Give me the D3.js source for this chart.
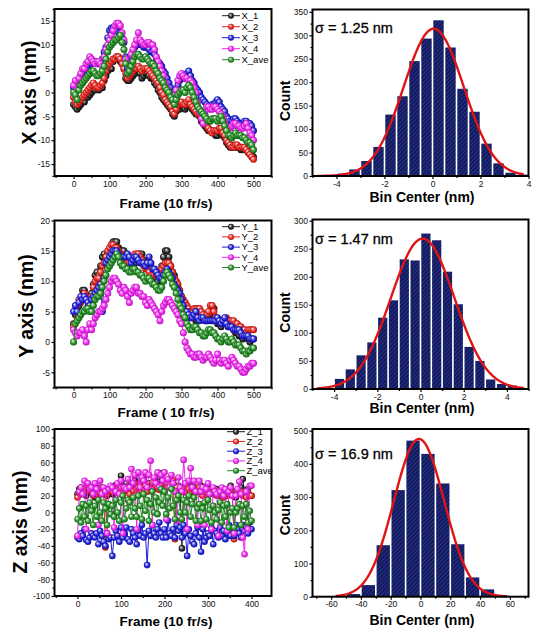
<!DOCTYPE html>
<html><head><meta charset="utf-8">
<script src="https://cdn.jsdelivr.net/npm/d3@7"></script>
<style>body{margin:0;background:#fff}svg text{font-family:"Liberation Sans",Arial,sans-serif}</style>
</head><body><svg id="c" width="539" height="638"></svg>
<script>
// ---------------- DATA ----------------
const framesXY = d3.range(0, 501, 5);
const framesZ = d3.range(0, 401, 4);

const X_1 = [-2.5,-3.0,-3.5,-3.0,-2.5,-1.5,-2.0,-1.0,-1.0,-0.5,
  0.0,0.5,0.5,1.0,0.5,1.0,1.0,2.5,3.5,4.5,
  5.5,5.0,6.5,7.0,7.5,7.0,6.5,6.0,5.0,3.0,
  2.5,2.5,3.0,3.5,4.0,4.5,4.5,4.0,3.0,3.5,
  4.0,4.0,3.5,3.0,3.0,2.0,1.5,0.5,0.0,-1.0,
  -1.5,-2.0,-2.5,-3.0,-3.5,-4.5,-5.0,-4.0,-3.0,-3.5,
  -3.0,-3.0,-3.5,-3.0,-2.5,-3.0,-3.5,-4.0,-4.5,-4.5,
  -5.0,-6.0,-6.5,-7.0,-7.5,-8.0,-8.0,-8.0,-8.5,-9.0,
  -9.0,-8.5,-8.0,-9.0,-9.5,-10.5,-11.0,-11.5,-11.5,-11.0,
  -11.5,-11.5,-11.5,-12.0,-12.0,-11.5,-12.0,-12.5,-12.5,-13.0,-13.5];
const X_2 = [-1.0,-2.0,-2.5,-2.0,-1.5,-1.0,-0.5,0.0,0.5,1.0,
  1.5,2.0,1.5,1.0,1.0,1.5,2.0,3.0,4.5,5.5,
  6.0,6.5,7.0,7.0,7.5,7.5,7.0,6.0,5.0,4.0,
  3.0,3.5,4.0,4.5,5.0,5.0,5.5,5.0,4.5,5.0,
  5.0,5.0,4.5,4.0,3.5,3.0,2.5,2.0,1.0,0.0,
  -0.5,-1.5,-2.0,-2.5,-3.0,-4.0,-4.5,-3.5,-2.5,-2.0,
  -2.0,-2.5,-2.5,-2.0,-1.5,-2.5,-3.0,-3.5,-4.0,-4.5,
  -4.5,-5.5,-6.0,-6.5,-7.0,-7.5,-8.0,-8.5,-8.0,-8.0,
  -8.0,-7.5,-7.5,-8.5,-9.0,-10.0,-10.5,-11.0,-11.5,-11.5,
  -11.0,-11.0,-11.5,-11.5,-11.5,-11.5,-12.0,-12.5,-13.0,-13.5,-14.0];
const X_3 = [1.0,2.0,1.5,2.5,3.5,4.0,4.5,5.5,5.5,6.0,
  6.0,6.5,6.5,6.0,6.0,6.5,7.0,8.5,9.5,11.5,
  13.0,13.5,13.5,13.0,13.0,12.5,12.5,11.5,10.5,7.5,
  5.0,6.0,7.5,8.5,9.5,10.0,10.0,10.5,10.0,9.5,
  9.5,9.5,9.0,8.5,8.5,8.0,7.0,6.5,6.0,5.5,
  4.5,4.0,3.0,2.0,1.0,0.0,-0.5,0.5,1.5,2.5,
  3.0,3.0,3.5,4.0,4.5,3.5,2.5,2.0,1.0,0.5,
  0.0,-1.0,-1.5,-2.0,-2.5,-3.0,-3.0,-2.5,-2.5,-2.0,
  -1.5,-2.0,-3.0,-3.5,-4.0,-5.0,-5.5,-6.0,-6.0,-5.5,
  -5.5,-6.0,-6.5,-6.5,-6.5,-6.0,-6.0,-6.5,-6.5,-7.0,-8.0];
const X_4 = [1.5,2.5,0.5,3.0,4.0,5.0,5.0,6.0,6.5,7.5,
  7.0,6.5,6.0,6.5,6.5,6.0,5.5,7.5,9.0,10.0,
  11.0,12.0,13.0,14.0,14.5,14.5,14.0,12.5,11.0,7.0,
  4.0,5.5,8.0,9.0,10.0,11.0,12.5,11.0,10.5,10.0,
  10.0,10.5,10.5,10.0,10.0,9.0,7.5,6.5,5.5,4.5,
  3.5,2.0,1.0,0.0,-1.0,-1.5,-2.0,0.5,2.5,3.5,
  4.0,3.5,3.0,3.0,2.5,2.5,2.0,1.0,0.0,-2.0,
  -4.0,-5.5,-6.5,-4.5,-3.0,-3.0,-3.5,-3.5,-3.0,-3.0,
  -3.5,-4.0,-4.5,-5.0,-6.0,-7.0,-7.5,-7.5,-7.0,-6.5,
  -6.5,-7.0,-7.0,-7.5,-7.5,-7.0,-6.5,-7.5,-8.5,-9.0,-10.0];
const X_ave = [0.0,-0.5,-1.5,0.5,1.5,2.0,2.5,3.0,3.5,4.0,
  4.5,4.5,4.0,3.5,3.5,4.0,4.5,5.5,7.0,8.5,
  9.5,10.0,10.5,11.0,11.0,11.5,12.0,10.5,9.0,6.0,
  4.0,4.5,5.5,6.5,7.5,8.0,8.0,7.5,7.0,7.0,
  7.5,7.0,6.5,6.0,6.0,5.5,4.5,4.0,3.0,2.5,
  2.0,1.0,0.5,0.0,-1.0,-1.5,-2.5,-1.5,-0.5,0.0,
  0.5,0.5,0.0,1.0,1.5,1.0,0.0,-1.0,-2.0,-3.0,
  -3.5,-4.0,-4.5,-5.0,-5.5,-6.0,-6.0,-5.5,-5.5,-5.5,
  -6.0,-5.5,-5.0,-6.0,-7.0,-8.0,-9.0,-9.0,-9.5,-9.0,
  -8.5,-9.0,-9.0,-9.0,-9.5,-9.5,-10.0,-10.5,-10.5,-11.0,-12.0];

const Y_1 = [3,4.5,5.5,6,7,8.5,8.5,7.5,7,7.5,
  8,9.5,11,11.5,11,12.5,14,14.5,14,14.5,
  15,16,16.5,16.5,16.5,15.5,15,15,15,14,
  13.5,13,13,13,13,14,14.5,14.5,14.5,13.5,
  12.5,12.5,12,11.5,11.5,11,10.5,10,11,12.5,
  14,15,15,14,12.5,11.5,11,10,9,8,
  7.5,6.5,6,5.5,5,4.5,4,4,3.5,3.5,
  4,4.5,4.5,4,3.5,4,4.5,5.5,5.5,4,
  3,3,2.5,3,3.5,3,2.5,2.5,2.5,2,
  1.5,1.5,1,1,0.5,1,1,0.5,0,0.5,0.5];
const Y_2 = [2.5,5,6,7,6.5,7.5,8,7.5,7,7,
  7.5,9,10,10.5,10.5,11.5,12.5,13,14,15,
  15.5,16,16,15.5,15.5,15,14.5,14,14,13.5,
  13,13,13.5,14,14.5,14.5,14.5,14,13.5,12.5,
  12,12,11.5,11,11,11,11,11,11.5,12,
  12.5,13,13,13,12.5,11.5,10.5,10,9.5,8.5,
  7.5,7,6.5,6,5.5,5,5,5.5,5.5,5.5,
  5.5,5,4.5,4,4.5,5,6,6,5,4,
  3.5,3.5,3.5,3.5,3.5,4,3.5,3.5,3.5,3.5,
  3,3,2.5,2.5,2,2,1.5,2,2,2,2];
const Y_3 = [5,6,5,6.5,7.5,7,7.5,7,6.5,6,
  7,7.5,8,8.5,9,9.5,5,10.5,13,13.5,
  14,14.5,15,15,15,14.5,14,14,14,14,
  14.5,14,13,13.5,14,14,13.5,13,13,13,
  12.5,13,14,13,12,12,11.5,11,10.5,10.5,
  11,11.5,12,11.5,11,10.5,9.5,9,8.5,8,
  7,6,5,5,4.5,4,4,4.5,5,4,
  3.5,4,4,3.5,3.5,3.5,3.5,3.5,3.5,3.5,
  4,3.5,3,3.5,4,3,2.5,2.5,2.5,2,
  2,2,2,1.5,1,1,1,1,0.5,0.5,0.5];
const Y_4 = [2,1.5,1,1.5,1.5,2,1,0,2,3,
  2,3,4,4.5,5,5,5.5,6,7,8,
  9,10,10.5,10.5,10,9.5,8.5,8,9,8.5,
  7.5,6.5,8,8.5,9,9,8,8,7.5,7.5,
  6.5,6,7,6.5,6,5.5,5,4.5,3.5,5,
  6,6.5,7,7,6.5,6,5.5,5,4.5,3.5,
  3,1.5,0,-1,-1.5,-2,-2,-2.5,-2.5,-2,
  -2,-2.5,-3,-2.5,-2.5,-2,-2.5,-3,-3.5,-3,
  -2,-3,-3.5,-3,-3,-3.5,-4,-3,-2.5,-3,
  -3.5,-4,-4,-4.5,-5,-5,-4.5,-4,-4,-3.5,-3.5];
const Y_ave = [0,3,3.5,4,4.5,5,5,5.5,5.5,5,
  5,6,7,7.5,7.5,8,9,10,11,12,
  12.5,13,13.5,14,14.5,14,13,12.5,12.5,12,
  12,11.5,11.5,12,12,11.5,11.5,11,11,10.5,
  10,10.5,10.5,10,9.5,9.5,9,8.5,8.5,9,
  10,11,11.5,11,10.5,9.5,9,8,7,6,
  5.5,4.5,4,3,2.5,2,2,2.5,2.5,2,
  1.5,1.5,1,1,1.5,2,2,1.5,1.5,1,
  0.5,0.5,0,0.5,1,0.5,0,0,0.5,0,
  -0.5,-0.5,-0.5,-1,-1.5,-1.5,-2,-1.5,-1.5,-1,-1];

const Z_1 = [22,28,30,25,26,20,24,27,30,24,
  18,26,25,30,22,28,24,20,26,30,
  22,28,33,25,30,44,28,26,35,30,
  25,32,30,38,28,32,35,30,40,28,
  30,35,28,32,38,30,35,42,47,35,
  30,32,38,35,32,28,30,25,32,28,
  -43,30,33,27,30,28,32,25,30,28,
  25,32,26,30,22,27,28,24,26,22,
  28,24,20,25,22,26,24,28,32,22,
  25,18,22,25,30,40,26,22,28,20,20];
const Z_2 = [18,24,22,28,25,30,32,26,25,20,
  27,22,28,24,30,26,-42,22,25,28,
  25,30,24,28,33,30,24,28,30,26,
  22,30,26,35,28,30,32,25,28,32,
  25,30,28,36,28,32,30,27,32,28,
  27,35,30,33,40,38,-32,30,26,28,
  26,28,24,30,28,22,30,26,24,28,
  30,22,20,26,24,22,27,24,25,22,
  20,26,24,22,18,24,20,22,26,20,
  -32,20,24,22,25,20,22,18,24,20,20];
const Z_3 = [-30,-32,-25,-28,-20,-33,-35,-30,-25,-28,
  -30,-25,-38,-22,-28,-35,-40,-25,-32,-30,
  -52,-30,-22,-28,-35,-18,-30,-25,-18,-32,
  -35,-20,-25,-30,-38,-22,-28,-15,-30,-25,
  -63,-22,-28,-15,-25,-30,-20,-12,-25,-30,
  -20,-30,-10,-25,-28,-20,-30,-15,-22,-18,
  -30,-15,-25,-52,-20,-28,-35,-38,-25,-18,
  -30,-47,-20,-35,-30,-25,-28,-18,-38,-22,
  -25,-30,-18,-28,-22,-32,-25,-15,-28,-20,
  -28,-15,-20,-25,-30,-15,-22,-18,-25,-12,-20];
const Z_4 = [-28,25,30,22,38,-20,35,28,30,22,
  35,28,-15,38,22,30,25,-25,28,32,
  30,-18,25,35,22,38,-25,30,28,40,
  30,52,35,45,-20,48,30,42,38,48,
  30,45,62,-15,42,35,48,30,45,38,
  48,-8,40,30,45,35,25,-10,42,30,
  25,63,35,-20,38,53,30,38,25,-15,
  38,25,30,-15,28,35,22,-20,30,25,
  22,-28,25,30,20,28,-22,25,30,20,
  -25,20,28,37,22,-30,-50,25,-20,32,32];
const Z_ave = [-8,5,-12,10,-5,8,-10,12,2,-15,
  8,-5,15,0,-10,12,5,-15,10,-2,
  8,-5,15,0,-10,12,20,-8,5,15,
  12,-5,18,5,-5,20,8,-8,22,2,
  15,-10,10,25,0,18,-2,12,28,8,
  25,-2,18,5,28,8,-8,15,20,0,
  -8,15,0,12,20,-5,10,18,-10,5,
  10,-10,5,12,-8,15,3,-12,8,0,
  -8,3,12,-12,8,-5,10,-18,0,5,
  -18,0,5,10,-15,8,-5,10,-12,2,-10];

const namesX = ["X_1","X_2","X_3","X_4","X_ave"];
const namesY = ["Y_1","Y_2","Y_3","Y_4","Y_ave"];
const namesZ = ["Z_1","Z_2","Z_3","Z_4","Z_ave"];

const histXCenters = [-3.75,-3.25,-2.75,-2.25,-1.75,-1.25,-0.75,-0.25,0.25,0.75,1.25,1.75,2.25,2.75,3.25,3.75];
const histXCounts  = [5,14,32,62,131,170,245,293,332,274,186,137,69,27,7,3];
const histYCenters = [-3.75,-3.25,-2.75,-2.25,-1.75,-1.25,-0.75,-0.25,0.25,0.75,1.25,1.75,2.25,2.75,3.25,3.75,4.25];
const histYCounts  = [18,35,60,83,127,158,231,229,277,265,209,151,75,50,17,9,6];
const histZCenters = [-45,-35,-25,-15,-5,5,15,25,35,45,55];
const histZCounts  = [8,35,155,321,470,430,341,158,58,22,3];
// Gaussian fit parameters [centre, peak, sigma, from, to]
const fitX = [0.05, 314, 1.25, -4.8, 3.8];
const fitY = [0.1, 268, 1.47, -4.8, 4.8];
const fitZ = [-1, 475, 16.9, -57, 58];
const sigmaLabels = ["σ = 1.25 nm","σ = 1.47 nm","σ = 16.9 nm"];

// ---------------- DRAW ----------------
const svg = d3.select('#c');
const defs = svg.append('defs');
const seriesColors = ['#1e1e1e','#e8201a','#1c1cd8','#f020f0','#1e8a1e'];
seriesColors.forEach((c,i)=>{
  const g = defs.append('radialGradient').attr('id','ball'+i)
    .attr('cx','50%').attr('cy','50%').attr('r','55%').attr('fx','35%').attr('fy','32%');
  g.append('stop').attr('offset','0%').attr('stop-color','#ffffff');
  g.append('stop').attr('offset','30%').attr('stop-color', d3.interpolateRgb('#ffffff', c)(0.55));
  g.append('stop').attr('offset','65%').attr('stop-color', c);
  g.append('stop').attr('offset','100%').attr('stop-color', d3.color(c).darker(1.2));
});
const pat = defs.append('pattern').attr('id','hatch').attr('patternUnits','userSpaceOnUse')
  .attr('width',3).attr('height',3).attr('patternTransform','rotate(45)');
pat.append('rect').attr('width',3).attr('height',3).attr('fill','#111a5e');
pat.append('line').attr('x1',0.5).attr('y1',0).attr('x2',0.5).attr('y2',3).attr('stroke','#2e3a8a').attr('stroke-width',0.8);

const fmt = d => String(d);
function axes(g, x, y, xMaj, xMin, yMaj, yMin, b, l){
  const ax = g.append('g').attr('transform',`translate(0,${b})`)
    .call(d3.axisBottom(x).tickValues(xMaj).tickSize(3).tickPadding(1.5).tickFormat(fmt));
  const axm = g.append('g').attr('transform',`translate(0,${b})`)
    .call(d3.axisBottom(x).tickValues(xMin).tickSize(2).tickFormat(''));
  const ay = g.append('g').attr('transform',`translate(${l},0)`)
    .call(d3.axisLeft(y).tickValues(yMaj).tickSize(3).tickPadding(1.5).tickFormat(fmt));
  const aym = g.append('g').attr('transform',`translate(${l},0)`)
    .call(d3.axisLeft(y).tickValues(yMin).tickSize(2).tickFormat(''));
  [ax,axm,ay,aym].forEach(a=>{ a.select('.domain').remove(); a.selectAll('line').attr('stroke','#000').attr('stroke-width',1.2);
    a.selectAll('text').attr('font-size',8.5).attr('fill','#111').attr('font-family','"Liberation Sans",Arial,sans-serif'); });
}
function within(vals, dom){ return vals.filter(v=>v>=Math.min(...dom)-1e-9 && v<=Math.max(...dom)+1e-9); }

let clipN = 0;
function tsPanel(o){
  const x = d3.scaleLinear().domain(o.xdom).range([o.L,o.R]);
  const y = d3.scaleLinear().domain(o.ydom).range([o.B,o.T]);
  const g = svg.append('g');
  const cid = 'clip'+(clipN++);
  defs.append('clipPath').attr('id',cid).append('rect').attr('x',o.L).attr('y',o.T).attr('width',o.R-o.L).attr('height',o.B-o.T);
  const pg = g.append('g').attr('clip-path',`url(#${cid})`);
  o.series.forEach((vals,i)=>{
    const pts = o.frames.map((f,j)=>[f, vals[j]]);
    const sg = pg.append('g');
    sg.append('path').attr('d', d3.line().x(d=>x(d[0])).y(d=>y(d[1]))(pts))
      .attr('fill','none').attr('stroke',seriesColors[i]).attr('stroke-width',1);
    sg.selectAll('circle').data(pts).enter().append('circle')
      .attr('cx',d=>x(d[0])).attr('cy',d=>y(d[1])).attr('r',o.r).attr('fill',`url(#ball${i})`);
  });
  // legend
  const lg = g.append('g');
  o.names.forEach((n,i)=>{
    const yy = o.legY + i*o.legDy;
    lg.append('line').attr('x1',o.legX).attr('x2',o.legX+18).attr('y1',yy).attr('y2',yy).attr('stroke',seriesColors[i]).attr('stroke-width',1);
    lg.append('circle').attr('cx',o.legX+9).attr('cy',yy).attr('r',3).attr('fill',`url(#ball${i})`);
    lg.append('text').attr('x',o.legX+19.5).attr('y',yy+3.3).attr('font-size',9.5).text(n);
  });
  g.append('rect').attr('x',o.L).attr('y',o.T).attr('width',o.R-o.L).attr('height',o.B-o.T)
    .attr('fill','none').attr('stroke','#000').attr('stroke-width',2);
  axes(g, x, y, o.xMaj, within(o.xMin,o.xdom), o.yMaj, within(o.yMin,o.ydom), o.B, o.L);
  g.append('text').attr('transform',`translate(${o.ylx},${o.yly}) rotate(-90)`).attr('text-anchor','middle')
    .attr('font-size',19.5).attr('font-weight','bold').text(o.ylabel);
  g.append('text').attr('x',166).attr('y',o.xly).attr('text-anchor','middle')
    .attr('font-size',13.5).attr('font-weight','bold').text(o.xlabel);
}

function histPanel(o){
  const x = d3.scaleLinear().domain(o.xdom).range([o.L,o.R]);
  const y = d3.scaleLinear().domain(o.ydom).range([o.B,o.T]);
  const g = svg.append('g');
  const bw = x(o.binW) - x(0);
  g.selectAll('rect.bar').data(o.centers).enter().append('rect').attr('class','bar')
    .attr('x',(c)=>x(c - o.binW/2)+0.8).attr('width',bw-1.6)
    .attr('y',(c,i)=>y(o.counts[i])).attr('height',(c,i)=>y(0)-y(o.counts[i]))
    .attr('fill','url(#hatch)');
  const [mu,A,s,f0,f1] = o.fit;
  const xs = d3.range(0,201).map(i=>f0+(f1-f0)*i/200);
  g.append('path').attr('d', d3.line().x(v=>x(v)).y(v=>y(A*Math.exp(-(v-mu)*(v-mu)/(2*s*s))))(xs))
    .attr('fill','none').attr('stroke','#e01414').attr('stroke-width',2.4);
  g.append('rect').attr('x',o.L).attr('y',o.T).attr('width',o.R-o.L).attr('height',o.B-o.T)
    .attr('fill','none').attr('stroke','#000').attr('stroke-width',2);
  axes(g, x, y, o.xMaj, within(o.xMin,o.xdom), o.yMaj, within(o.yMin,o.ydom), o.B, o.L);
  g.append('text').attr('x',o.L+2.5).attr('y',o.sy).attr('font-size',14.5)
    .attr('font-family','"DejaVu Sans",Verdana,sans-serif').attr('fill','#000')
    .attr('stroke','#000').attr('stroke-width',0.3).text(o.sigma);
  g.append('text').attr('transform',`translate(289.5,${o.cy}) rotate(-90)`).attr('text-anchor','middle')
    .attr('font-size',14).attr('font-weight','bold').text('Count');
  g.append('text').attr('x',422).attr('y',o.xly).attr('text-anchor','middle')
    .attr('font-size',14).attr('font-weight','bold').text('Bin Center (nm)');
}

tsPanel({L:54.5,R:271.5,T:9,B:176,xdom:[-53,550],ydom:[-17.5,17.5],frames:framesXY,r:3.5,
  series:[X_1,X_2,X_3,X_4,X_ave],names:namesX,
  xMaj:[0,100,200,300,400,500],xMin:[-50,50,150,250,350,450,550],
  yMaj:[-15,-10,-5,0,5,10,15],yMin:[-17.5,-12.5,-7.5,-2.5,2.5,7.5,12.5,17.5],
  legX:222,legY:15.7,legDy:11,ylabel:'X axis (nm)',ylx:35.5,yly:92.5,xlabel:'Frame (10 fr/s)',xly:208});
tsPanel({L:54.5,R:271.5,T:220.5,B:387.5,xdom:[-53,550],ydom:[-7.5,20],frames:framesXY,r:3.5,
  series:[Y_1,Y_2,Y_3,Y_4,Y_ave],names:namesY,
  xMaj:[0,100,200,300,400,500],xMin:[-50,50,150,250,350,450,550],
  yMaj:[-5,0,5,10,15,20],yMin:[-7.5,-2.5,2.5,7.5,12.5,17.5],
  legX:222,legY:226.7,legDy:10.2,ylabel:'Y axis (nm)',ylx:32.5,yly:306,xlabel:'Frame ( 10 fr/s)',xly:417});
tsPanel({L:54.5,R:271.5,T:429,B:596,xdom:[-53,446],ydom:[-100,100],frames:framesZ,r:3.3,
  series:[Z_1,Z_2,Z_3,Z_4,Z_ave],names:namesZ,
  xMaj:[0,100,200,300,400],xMin:[-50,50,150,250,350],
  yMaj:d3.range(-100,101,20),yMin:d3.range(-90,91,20),
  legX:227,legY:431.7,legDy:9.75,ylabel:'Z axis (nm)',ylx:26.5,yly:522,xlabel:'Frame (10 fr/s)',xly:626});

histPanel({L:312.5,R:528.5,T:9.5,B:176,xdom:[-5,4],ydom:[0,355],binW:0.5,
  centers:histXCenters,counts:histXCounts,fit:fitX,
  xMaj:[-4,-2,0,2,4],xMin:[-5,-3,-1,1,3],yMaj:d3.range(0,351,50),yMin:d3.range(25,351,50),
  sigma:sigmaLabels[0],sy:33,cy:100.8,xly:202});
histPanel({L:312.5,R:528.5,T:219.5,B:389,xdom:[-5,5],ydom:[0,302],binW:0.5,
  centers:histYCenters,counts:histYCounts,fit:fitY,
  xMaj:[-4,-2,0,2,4],xMin:[-5,-3,-1,1,3,5],yMaj:d3.range(0,301,50),yMin:d3.range(25,301,50),
  sigma:sigmaLabels[1],sy:244,cy:312.5,xly:413});
histPanel({L:312.5,R:528.5,T:429,B:596.7,xdom:[-72.5,72.5],ydom:[0,505],binW:10,
  centers:histZCenters,counts:histZCounts,fit:fitZ,
  xMaj:d3.range(-60,61,20),xMin:d3.range(-70,71,20),yMaj:d3.range(0,501,100),yMin:d3.range(50,501,100),
  sigma:sigmaLabels[2],sy:459,cy:515,xly:625});
</script></body></html>
